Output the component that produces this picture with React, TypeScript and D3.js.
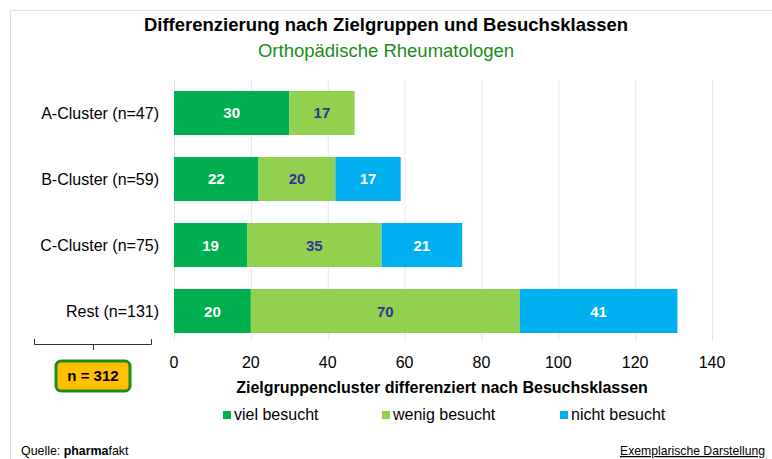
import { useEffect, useRef } from 'react';
import * as d3 from 'd3';

const categories = ['A-Cluster (n=47)', 'B-Cluster (n=59)', 'C-Cluster (n=75)', 'Rest (n=131)'];
const seriesNames = ['viel besucht', 'wenig besucht', 'nicht besucht'];
const vielBesucht = [30, 22, 19, 20];
const wenigBesucht = [17, 20, 35, 70];
const nichtBesucht = [0, 17, 21, 41];
const xTicks = [0, 20, 40, 60, 80, 100, 120, 140];

const colors = ['#00B050', '#92D050', '#00B0F0'];
const labelColors = ['#ffffff', '#333399', '#ffffff'];

export default function App() {
  const svgRef = useRef<SVGSVGElement | null>(null);

  useEffect(() => {
    const svg = svgRef.current;
    if (!svg) return;

    const width = 772;
    const height = 459;
    const font = 'Arial, "Liberation Sans", sans-serif';

    const root = d3.select(svg);
    root.selectAll('*').remove();
    root.attr('viewBox', `0 0 ${width} ${height}`).style('font-family', font);

    root.append('rect').attr('width', width).attr('height', height).attr('fill', '#fff');

    // frame lines
    root.append('line').attr('x1', 10.5).attr('x2', width).attr('y1', 10.5).attr('y2', 10.5)
      .attr('stroke', '#dcdcf5').attr('stroke-width', 1);
    root.append('line').attr('x1', 10.5).attr('x2', 10.5).attr('y1', 10.5).attr('y2', height)
      .attr('stroke', '#dcdcf5').attr('stroke-width', 1);

    root.append('text').attr('x', 386).attr('y', 31).attr('text-anchor', 'middle')
      .attr('font-size', 18.5).attr('font-weight', 'bold').attr('fill', '#000')
      .text('Differenzierung nach Zielgruppen und Besuchsklassen');
    root.append('text').attr('x', 386).attr('y', 57).attr('text-anchor', 'middle')
      .attr('font-size', 18.5).attr('fill', '#1a8c1a')
      .text('Orthopädische Rheumatologen');

    const x = d3.scaleLinear().domain([0, 140]).range([174, 712]);
    const y = d3.scaleBand().domain(categories).range([80, 344]).paddingInner(0.333).paddingOuter(0.166);

    // gridlines
    root.append('g').selectAll('line').data(xTicks).join('line')
      .attr('x1', (d) => x(d) + 0.5).attr('x2', (d) => x(d) + 0.5)
      .attr('y1', 80).attr('y2', 341)
      .attr('stroke', '#e6e6f2').attr('stroke-width', 1);

    const stacked = d3.stack<number>().keys(['0', '1', '2'])
      .value((i, key) => [vielBesucht, wenigBesucht, nichtBesucht][+key][i])(d3.range(categories.length));

    stacked.forEach((layer, si) => {
      const g = root.append('g');
      layer.forEach((seg, i) => {
        const v = seg[1] - seg[0];
        if (v <= 0) return;
        const yy = y(categories[i])!;
        g.append('rect').attr('x', x(seg[0])).attr('y', yy)
          .attr('width', x(seg[1]) - x(seg[0])).attr('height', y.bandwidth())
          .attr('fill', colors[si]);
        g.append('text').attr('x', (x(seg[0]) + x(seg[1])) / 2).attr('y', yy + y.bandwidth() / 2 + 5.5)
          .attr('text-anchor', 'middle').attr('font-size', 15).attr('font-weight', 'bold')
          .attr('fill', labelColors[si]).text(v);
      });
    });

    // category labels
    root.append('g').selectAll('text').data(categories).join('text')
      .attr('x', 159).attr('y', (d) => y(d)! + y.bandwidth() / 2 + 6)
      .attr('text-anchor', 'end').attr('font-size', 16).attr('fill', '#000').text((d) => d);

    // x tick labels
    root.append('g').selectAll('text').data(xTicks).join('text')
      .attr('x', (d) => x(d)).attr('y', 368).attr('text-anchor', 'middle')
      .attr('font-size', 16).attr('fill', '#000').text((d) => d);

    root.append('text').attr('x', 442).attr('y', 393).attr('text-anchor', 'middle')
      .attr('font-size', 16).attr('font-weight', 'bold').attr('fill', '#000')
      .text('Zielgruppencluster differenziert nach Besuchsklassen');

    // legend
    const legendX = [223, 382, 560];
    seriesNames.forEach((name, i) => {
      root.append('rect').attr('x', legendX[i]).attr('y', 411).attr('width', 8).attr('height', 8)
        .attr('fill', colors[i]);
      root.append('text').attr('x', legendX[i] + 11).attr('y', 420).attr('font-size', 16)
        .attr('fill', '#000').text(name);
    });

    // brace
    root.append('path')
      .attr('d', 'M34.5,339 L34.5,344.5 L151.5,344.5 L151.5,339 M93.5,344.5 L93.5,350')
      .attr('fill', 'none').attr('stroke', '#333').attr('stroke-width', 1);

    root.append('rect').attr('x', 56).attr('y', 361).attr('width', 74).attr('height', 30).attr('rx', 5)
      .attr('fill', '#FFC000').attr('stroke', '#1e8c1e').attr('stroke-width', 3);
    root.append('text').attr('x', 93).attr('y', 381).attr('text-anchor', 'middle')
      .attr('font-size', 15).attr('font-weight', 'bold').attr('fill', '#000').text('n = 312');

    const q = root.append('text').attr('x', 21).attr('y', 455).attr('font-size', 12.4).attr('fill', '#000');
    q.append('tspan').text('Quelle: ');
    q.append('tspan').attr('font-weight', 'bold').text('pharma');
    q.append('tspan').text('fakt');

    root.append('text').attr('x', 765).attr('y', 455).attr('text-anchor', 'end')
      .attr('font-size', 12.2).attr('fill', '#000').attr('text-decoration', 'underline')
      .text('Exemplarische Darstellung');
  }, []);

  return (
    <svg ref={svgRef} width={772} height={459}
      style={{ position: 'absolute', left: 0, top: 0, display: 'block' }} />
  );
}
